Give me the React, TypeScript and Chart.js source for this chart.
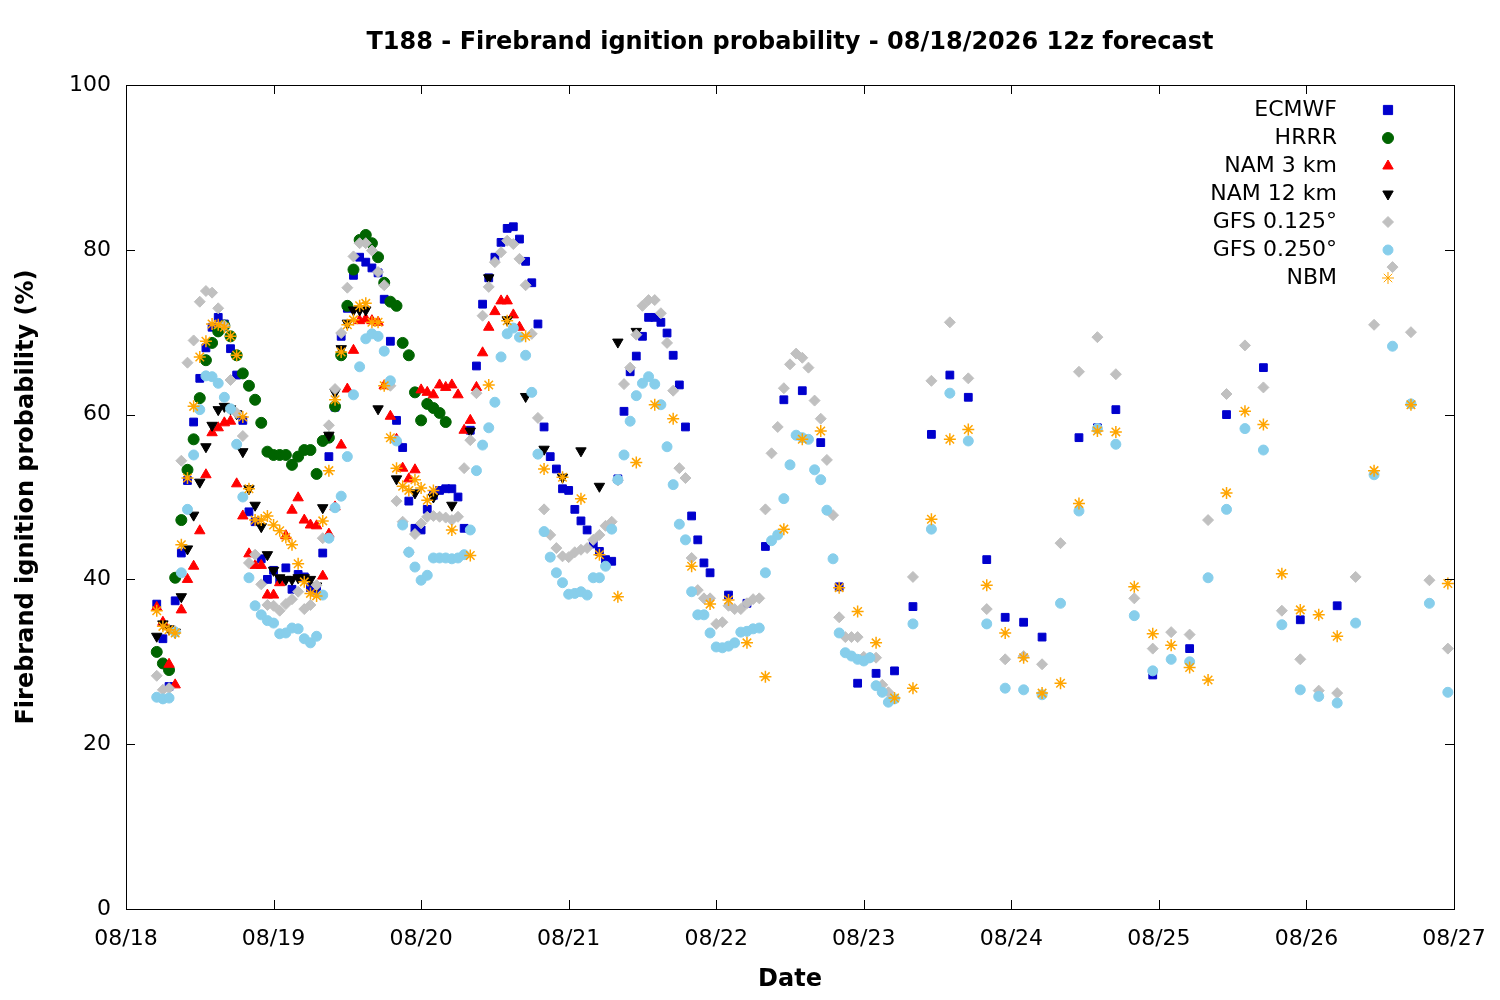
import React, { useEffect, useRef } from "react";
import { Chart, registerables } from "chart.js";
import { drawPoint } from "chart.js/helpers";
Chart.register(...registerables);

const TITLE = "T188 - Firebrand ignition probability - 08/18/2026 12z forecast";
const X_TICK_LABELS = ["08/18", "08/19", "08/20", "08/21", "08/22", "08/23", "08/24", "08/25", "08/26", "08/27"];
const Y_TICKS = [0, 20, 40, 60, 80, 100];

// hours since 08/18 00
const ECMWF_HOURLY_START = 5;
const ECMWF_HOURLY = [37,32.8,27,37.4,43.2,52,59.1,64.4,68.1,70.6,71.8,71,68,64.8,59.3,48.2,47,42.5,40,41.1,40,41.4,38.8,40.6,40.3,39,38.7,43.2,54.9,60.9,69.5,72.9,76.9,79.1,78.5,77.8,77.2,74,68.9,59.3,56,49.5,46.2,46,48.5,50.2,50.8,51,51,50,46.2,58.1,65.9,73.4,76.6,79.1,80.9,82.6,82.8,81.3,78.6,76,71,58.5,54.9,53.4,51,50.8,48.5,47.1,46,44.3,43.4,42.4,42.2,52.2,60.4,65.2,67.1,69.5,71.8,71.8,71.2,69.9,67.2,63.6,58.5,47.7,44.8,42,40.8];
const ECMWF_LATE_HOURS = [98,101,104,107,110,113,116,119,122,125,128,131,134,137,140,143,146,149,155,158,161,167,173,179,185,191,197];
const ECMWF_LATE = [38.1,37.1,44,61.8,62.9,56.6,39.1,27.4,28.6,28.9,36.7,57.6,64.8,62.1,42.4,35.4,34.8,33,57.2,58.4,60.6,28.4,31.6,60,65.7,35.1,36.8];

const HRRR_START = 5;
const HRRR = [31.2,29.8,29,40.2,47.2,53.3,57,62,66.6,68.7,70.1,70.8,69.5,67.2,65,63.5,61.8,59,55.5,55.1,55.1,55.1,53.9,54.9,55.7,55.7,52.8,56.8,57.2,61,67.2,73.2,77.6,81.2,81.8,80.8,79.1,76,73.7,73.2,68.7,67.2,62.7,59.3,61.3,60.8,60.2,59.1];

const NAM3_START = 5;
const NAM3 = [36.6,34.8,29.7,27.2,36.3,40,41.6,45.9,52.7,57.8,58.4,59,59.2,51.6,47.7,43.1,41.7,41.7,38.1,38.1,39.6,45.3,48.4,49.9,47.2,46.6,46.5,40.4,45.5,48.8,56.3,63.1,67.8,71.4,71.6,71.4,71.2,63.5,59.8,57,53.5,52.2,53.3,63,62.7,62.4,63.6,63.3,63.6,62.4,58.1,59.3,63.3,67.5,70.6,72.5,73.8,73.8,72.1,70.6];

const NAM12_START = 5;
const NAM12_HOURLY = [33.1,34.6,34,33.6,37.9,43.7,47.8,51.8,56.1,58.7,60.6,61,60.7,60.1,55.5,51,49,46.4,43,41.1,40.2,40,40,40.2,40.2,40,39.2,48.7,57.5,62.7,68,71.1,72.7,72.7,72.7];
const NAM12_LATE_HOURS = [41,44,47,50,53,56,59,62,65,68,71,74,77,80,83];
const NAM12_LATE = [60.7,52.2,50.5,50,49,58,76.6,71.5,62.2,55.8,52.4,55.6,51.3,68.8,70.1];

const GFS125_START = 5;
const GFS125_HOURLY = [28.3,26.6,26.8,33.7,54.4,66.3,69,73.7,75,74.8,72.9,70.8,64.2,60.2,57.4,42,43,39.4,36.9,36.8,36.2,37,37.6,38.5,36.4,36.9,39.3,45,58.7,63.1,69.9,75.4,79.2,80.8,80.8,79.9,77.3,75.7,63.5,49.5,47,43.3,45.5,46.8,47.6,47.7,47.6,47.5,47.2,47.6,53.5,56.9,62.6,72,75.5,78.5,79.7,81.1,80.7,78.9,75.7,69.8,59.6,48.5,45.4,43.8,42.8,42.7,43.3,43.6,43.8,44.8,45.4,46.5,47,52,63.7,65.7,69.7,73.2,73.9,73.9,72.3,68.7,62.9,53.5,52.3,42.6,38.7,37.7,37.7,34.6,34.8,36.8,36.4,36.4,37.1,37.6,37.7,48.5,55.3,58.5,63.2,66.1,67.4,66.9,65.7,61.7,59.5,54.5,47.8,35.4,33,33,33,30.6,30.5,30.5,27.2,26.3];
const GFS_LATE_START = 128;
const GFS125_LATE = [40.3,64.1,71.2,64.4,36.4,30.3,30.7,29.7,44.4,65.2,69.4,64.9,37.7,31.6,33.6,33.3,47.2,62.5,68.4,63.3,36.2,30.3,26.5,26.2,40.3,70.9,77.9,70,39.9,31.6];

const GFS250_START = 5;
const GFS250_HOURLY = [25.7,25.5,25.6,33.6,40.8,48.5,55.1,60.6,64.7,64.6,63.8,62.1,60.7,56.4,50,40.2,36.8,35.7,35,34.7,33.4,33.5,34.1,34,32.8,32.3,33.1,38.1,45,48.7,50.1,54.9,62.4,65.8,69.2,69.8,69.5,67.7,64.1,56.8,46.6,43.3,41.5,39.9,40.5,42.6,42.6,42.6,42.5,42.6,43,46,53.2,56.3,58.4,61.5,67,69.8,70.5,69.4,67.2,62.7,55.2,45.8,42.7,40.8,39.6,38.2,38.3,38.5,38.1,40.2,40.2,41.6,46.1,52.1,55.1,59.2,62.3,63.8,64.6,63.7,61.2,56.1,51.5,46.7,44.8,38.5,35.7,35.7,33.5,31.8,31.7,31.9,32.3,33.6,33.7,34,34.1,40.8,44.7,45.4,49.8,53.9,57.5,57.2,57,53.3,52.1,48.4,42.5,33.5,31.1,30.7,30.3,30.1,30.5,27.1,26.3,25.1,25.5];
const GFS250_LATE = [34.6,46.1,62.6,56.8,34.6,26.8,26.6,26,37.1,48.3,58.3,56.4,35.6,28.9,30.3,30,40.2,48.5,58.3,55.7,34.5,26.6,25.8,25,34.7,52.7,68.3,61.3,37.1,26.3];

const NBM_START = 5;
const NBM_HOURLY = [36.2,34.3,33.9,33.5,44.2,52.3,61,67,68.9,71,70.9,70.6,69.5,67.2,59.7,51,47.2,47.2,47.7,46.6,45.9,45.1,44.2,41.9,39.7,38.3,38,47.1,53.2,61.8,67.6,70.9,71.5,73.2,73.5,71.2,71.2,63.5,57.2,53.5,51.3,50.8,52.1,51.1,49.6];
const NBM_MID_START = 50;
const NBM_MID = [50.8,46,42.9,63.6,71.4,69.5,53.4,52.4,49.8,43,37.9,54.2,61.2,59.5,41.6,37,37.5,32.3,28.2,46.1,57,58,39,36.1,32.3,25.6,26.8,47.3,57,58.2,39.3,33.5,30.5,26.2,27.4,49.2,58,57.9,39.1,33.4,32,29.3,27.8,50.5,60.4,58.8,40.7,36.3,35.7,33.1];
const NBM_LATE_HOURS = [203, 209, 215];
const NBM_LATE = [53.2, 61.2, 39.5];

const seq = (start: number, step: number, vals: number[]) => vals.map((v, i) => ({ x: start + i * step, y: v }));
const pairs = (hs: number[], vals: number[]) => vals.map((v, i) => ({ x: hs[i], y: v }));

const FONT = "'DejaVu Sans', sans-serif";

const SERIES = [
  { label: "ECMWF", color: "#0000cd", style: "rect", radius: 5.5, rotation: 0, data: [...seq(ECMWF_HOURLY_START, 1, ECMWF_HOURLY), ...pairs(ECMWF_LATE_HOURS, ECMWF_LATE)] },
  { label: "HRRR", color: "#006400", style: "circle", radius: 5.5, rotation: 0, data: seq(HRRR_START, 1, HRRR) },
  { label: "NAM 3 km", color: "#ff0000", style: "triangle", radius: 6, rotation: 0, data: seq(NAM3_START, 1, NAM3) },
  { label: "NAM 12 km", color: "#000000", style: "triangle", radius: 6, rotation: 180, data: [...seq(NAM12_START, 1, NAM12_HOURLY), ...pairs(NAM12_LATE_HOURS, NAM12_LATE)] },
  { label: "GFS 0.125°", color: "#c0c0c0", style: "rectRot", radius: 5.5, rotation: 0, data: [...seq(GFS125_START, 1, GFS125_HOURLY), ...seq(GFS_LATE_START, 3, GFS125_LATE)] },
  { label: "GFS 0.250°", color: "#87ceeb", style: "circle", radius: 5, rotation: 0, data: [...seq(GFS250_START, 1, GFS250_HOURLY), ...seq(GFS_LATE_START, 3, GFS250_LATE)] },
  { label: "NBM", color: "#ffa500", style: "star", radius: 6, rotation: 0, data: [...seq(NBM_START, 1, NBM_HOURLY), ...seq(NBM_MID_START, 3, NBM_MID), ...pairs(NBM_LATE_HOURS, NBM_LATE)] },
];

const decor = {
  id: "decor",
  afterDraw(chart: any) {
    const { ctx, chartArea: a, scales } = chart;
    ctx.save();
    ctx.strokeStyle = "#000";
    ctx.lineWidth = 1;
    ctx.strokeRect(a.left + 0.5, a.top + 0.5, a.right - a.left, a.bottom - a.top);
    ctx.beginPath();
    for (const v of Y_TICKS) {
      const y = Math.round(scales.y.getPixelForValue(v)) + 0.5;
      ctx.moveTo(a.left, y); ctx.lineTo(a.left + 9, y);
      ctx.moveTo(a.right, y); ctx.lineTo(a.right - 9, y);
    }
    for (let i = 0; i < X_TICK_LABELS.length; i++) {
      const x = Math.round(scales.x.getPixelForValue(i * 24)) + 0.5;
      ctx.moveTo(x, a.bottom); ctx.lineTo(x, a.bottom - 9);
      ctx.moveTo(x, a.top); ctx.lineTo(x, a.top + 9);
    }
    ctx.stroke();
    ctx.fillStyle = "#000";
    ctx.font = `bold 24px ${FONT}`;
    ctx.textAlign = "center";
    ctx.textBaseline = "middle";
    ctx.fillText(TITLE, (a.left + a.right) / 2, 43);
    ctx.fillText("Date", (a.left + a.right) / 2, 980);
    ctx.save();
    ctx.translate(27, (a.top + a.bottom) / 2);
    ctx.rotate(-Math.PI / 2);
    ctx.fillText("Firebrand ignition probability (%)", 0, 0);
    ctx.restore();
    ctx.font = `22px ${FONT}`;
    ctx.textAlign = "right";
    SERIES.forEach((s, i) => {
      const y = 110 + i * 28;
      ctx.fillStyle = "#000";
      ctx.fillText(s.label, 1337, y);
      ctx.fillStyle = s.color;
      ctx.strokeStyle = s.color;
      drawPoint(ctx, { pointStyle: s.style, radius: s.style === "rect" ? 6.5 : s.radius, rotation: s.rotation, borderWidth: s.style === "star" ? 1.5 : 1 } as any, 1388, y);
    });
    ctx.restore();
  },
};

export default function App() {
  const ref = useRef<HTMLCanvasElement>(null);
  useEffect(() => {
    document.body.style.margin = "0";
    const chart = new Chart(ref.current!, {
      type: "scatter",
      data: {
        datasets: SERIES.map((s, i) => ({
          label: s.label,
          data: s.data,
          pointStyle: s.style as any,
          pointRadius: s.radius,
          pointRotation: s.rotation,
          backgroundColor: s.color,
          borderColor: s.color,
          borderWidth: s.style === "star" ? 1.5 : 1,
          showLine: false,
          order: SERIES.length - i,
        })),
      },
      options: {
        animation: false,
        responsive: false,
        layout: { padding: { top: 85, right: 46, left: 0, bottom: 0 } },
        plugins: { legend: { display: false }, tooltip: { enabled: false }, title: { display: false } },
        scales: {
          x: {
            type: "linear", min: 0, max: 216,
            grid: { display: false }, border: { display: false },
            afterFit: (s: any) => { s.height = 91; },
            afterBuildTicks: (s: any) => { s.ticks = X_TICK_LABELS.map((_, i) => ({ value: i * 24 })); },
            ticks: { color: "#000", font: { family: FONT, size: 22 }, padding: 9, maxRotation: 0, callback: (v: any) => X_TICK_LABELS[Math.round(v / 24)] },
          },
          y: {
            min: 0, max: 100,
            grid: { display: false }, border: { display: false },
            afterFit: (s: any) => { s.width = 126; },
            afterBuildTicks: (s: any) => { s.ticks = Y_TICKS.map((v) => ({ value: v })); },
            ticks: { color: "#000", font: { family: FONT, size: 22 }, padding: 7 },
          },
        },
      },
      plugins: [decor],
    });
    return () => chart.destroy();
  }, []);
  return <canvas ref={ref} width={1500} height={1000} style={{ display: "block" }} />;
}
